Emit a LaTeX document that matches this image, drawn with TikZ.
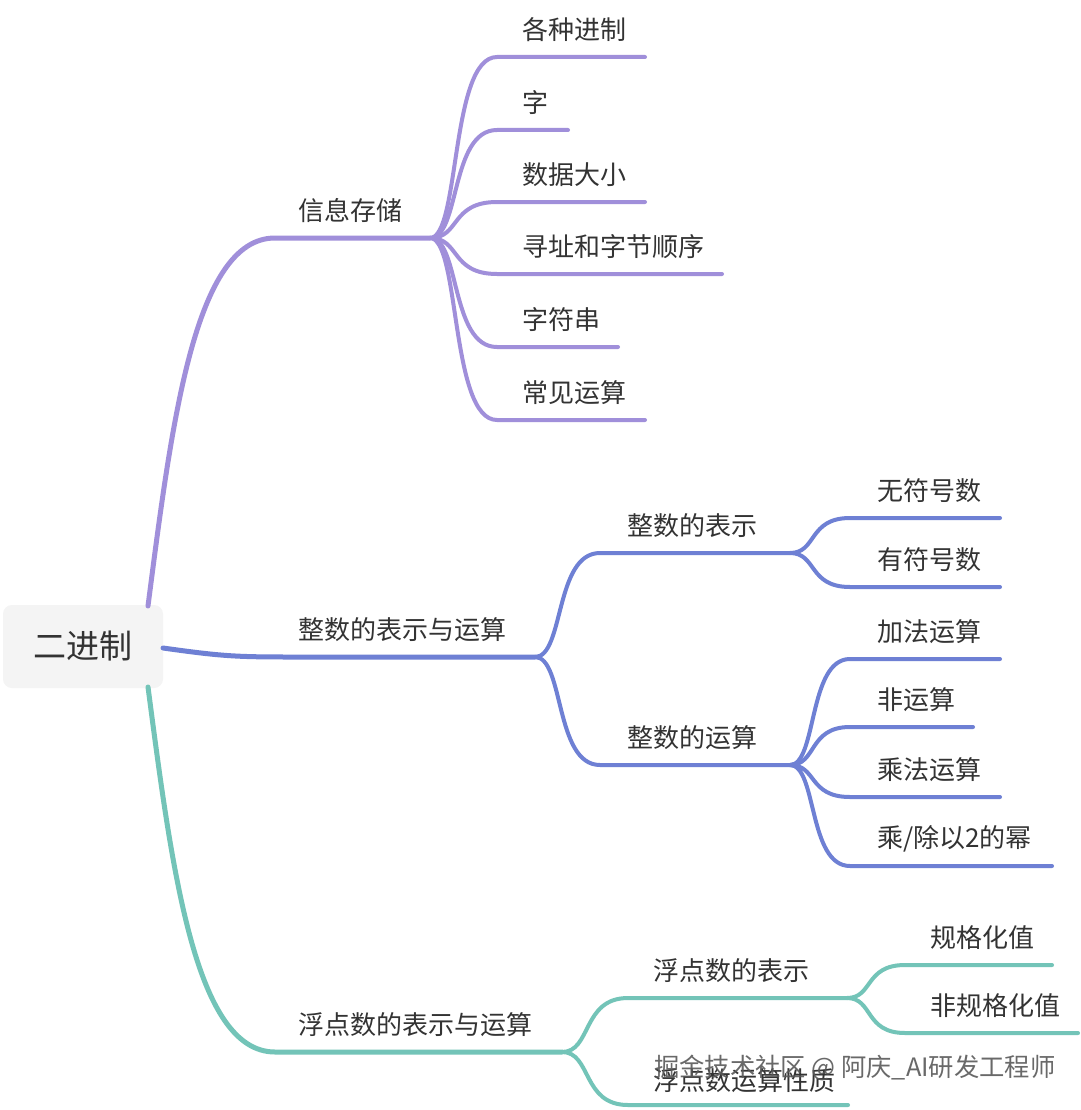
\documentclass[tikz,border=0pt]{standalone}
\usepackage{fontspec}
\setmainfont{Noto Sans CJK SC}
\usetikzlibrary{calc}
\definecolor{cpur}{RGB}{160,143,218}
\definecolor{cblu}{RGB}{110,128,212}
\definecolor{ctea}{RGB}{115,196,184}
\definecolor{rootfill}{RGB}{244,244,244}
\definecolor{txt}{RGB}{51,51,51}
\newcommand\mmlink[4]{%
  \draw[#4] let \p1=(#1), \p2=(#2) in (\p1) .. controls ({\x1+0.45*(\x2-\x1)},\y1) and ({\x1+0.3*(\x2-\x1)},\y2) .. (\p2) -- (#3);}
\begin{document}
\begin{tikzpicture}[x=1pt,y=-1pt,
  lbl/.style={anchor=west,inner sep=0pt,text=txt,font=\fontsize{26}{30}\selectfont},
  link/.style={line width=4pt,line cap=round},
  trunk/.style={line width=5pt,line cap=round},
  rootbox/.style={fill=rootfill,rounded corners=9pt,minimum width=160pt,minimum height=83pt,inner sep=0pt,text=txt,font=\fontsize{33}{40}\selectfont},
  wm/.style={anchor=west,inner sep=0pt,text=black!65,opacity=0.9,font=\fontsize{25.3}{29}\selectfont}]
\useasboundingbox[fill=white] (0,0) rectangle (1080,1110);

% root
\node[rootbox] (root) at (83,646.5) {二进制};
\coordinate (r-top) at (148,606);
\coordinate (r-right) at (163,648);
\coordinate (r-bot) at (148,687);

% ---------- purple branch ----------
\coordinate (a-s) at (275,238);
\coordinate (a-f) at (430,238);
\node[lbl] (a) at (298,211) {信息存储};
\draw[trunk,cpur] (r-top) .. controls (172,420) and (195,238) .. (a-s) -- (a-f);

\coordinate (a1-s) at (497,57);  \coordinate (a1-e) at (645,57);  \node[lbl] (a1) at (522,30) {各种进制};
\coordinate (a2-s) at (497,130); \coordinate (a2-e) at (568,130); \node[lbl] (a2) at (522,103) {字};
\coordinate (a3-s) at (497,202); \coordinate (a3-e) at (645,202); \node[lbl] (a3) at (522,175) {数据大小};
\coordinate (a4-s) at (497,274); \coordinate (a4-e) at (722,274); \node[lbl] (a4) at (522,247) {寻址和字节顺序};
\coordinate (a5-s) at (497,347); \coordinate (a5-e) at (618,347); \node[lbl] (a5) at (522,320) {字符串};
\coordinate (a6-s) at (497,420); \coordinate (a6-e) at (645,420); \node[lbl] (a6) at (522,393) {常见运算};
\foreach \k in {a1,a2,a3,a4,a5,a6} {\mmlink{a-f}{\k-s}{\k-e}{link,cpur}}

% ---------- blue branch ----------
\coordinate (b-s) at (290,657);
\coordinate (b-f) at (535,657);
\node[lbl] (b) at (298,630) {整数的表示与运算};
\draw[trunk,cblu] (r-right) .. controls (220,656) and (235,657) .. (b-s) -- (b-f);

\coordinate (b1-s) at (600,553); \coordinate (b1-f) at (790,553); \node[lbl] (b1) at (627,526) {整数的表示};
\coordinate (b2-s) at (600,765); \coordinate (b2-f) at (790,765); \node[lbl] (b2) at (627,738) {整数的运算};
\mmlink{b-f}{b1-s}{b1-f}{link,cblu}
\mmlink{b-f}{b2-s}{b2-f}{link,cblu}

\coordinate (b11-s) at (850,518); \coordinate (b11-e) at (1000,518); \node[lbl] (b11) at (877,491) {无符号数};
\coordinate (b12-s) at (850,587); \coordinate (b12-e) at (1000,587); \node[lbl] (b12) at (877,560) {有符号数};
\mmlink{b1-f}{b11-s}{b11-e}{link,cblu}
\mmlink{b1-f}{b12-s}{b12-e}{link,cblu}

\coordinate (b21-s) at (850,659); \coordinate (b21-e) at (1000,659); \node[lbl] (b21) at (877,632) {加法运算};
\coordinate (b22-s) at (850,727); \coordinate (b22-e) at (973,727);  \node[lbl] (b22) at (877,700) {非运算};
\coordinate (b23-s) at (850,797); \coordinate (b23-e) at (1000,797); \node[lbl] (b23) at (877,770) {乘法运算};
\coordinate (b24-s) at (850,866); \coordinate (b24-e) at (1052,866); \node[lbl] (b24) at (877,839) {乘/除以2的幂};
\foreach \k in {b21,b22,b23,b24} {\mmlink{b2-f}{\k-s}{\k-e}{link,cblu}}

% ---------- teal branch ----------
\coordinate (c-s) at (275,1052);
\coordinate (c-f) at (562,1052);
\node[lbl] (c) at (298,1025) {浮点数的表示与运算};
\draw[trunk,ctea] (r-bot) .. controls (172,870) and (195,1052) .. (c-s) -- (c-f);

\coordinate (c1-s) at (628,998);  \coordinate (c1-f) at (847,998);  \node[lbl] (c1) at (653,971) {浮点数的表示};
\coordinate (c2-s) at (628,1105); \coordinate (c2-e) at (848,1105); \node[lbl] (c2) at (653,1081) {浮点数运算性质};
\mmlink{c-f}{c1-s}{c1-f}{link,ctea}
\mmlink{c-f}{c2-s}{c2-e}{link,ctea}

\coordinate (c11-s) at (905,965);  \coordinate (c11-e) at (1052,965); \node[lbl] (c11) at (930,938) {规格化值};
\coordinate (c12-s) at (905,1033); \coordinate (c12-e) at (1078,1033); \node[lbl] (c12) at (930,1006) {非规格化值};
\mmlink{c1-f}{c11-s}{c11-e}{link,ctea}
\mmlink{c1-f}{c12-s}{c12-e}{link,ctea}

% watermark (overlaps the label below it, as in the source image)
\node[wm] (wm) at (654,1068) {掘金技术社区 @ 阿庆\_AI研发工程师};
\end{tikzpicture}
\end{document}
